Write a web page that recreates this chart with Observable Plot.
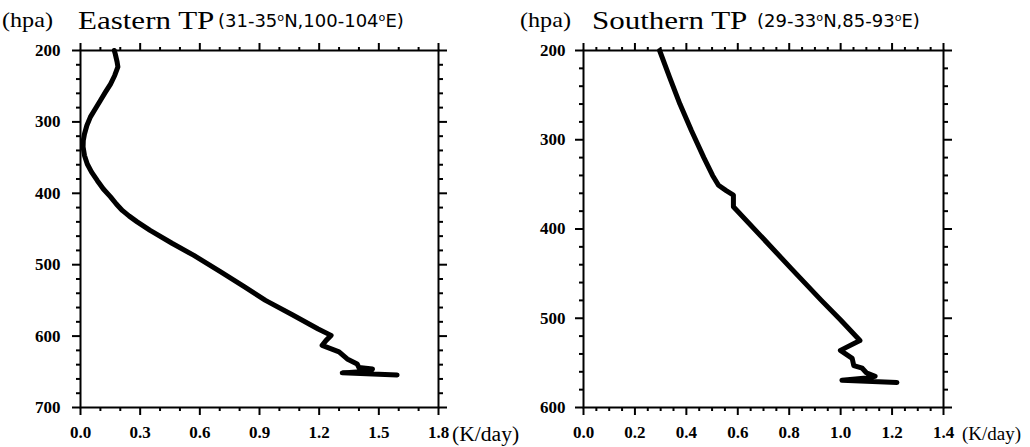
<!DOCTYPE html>
<html>
<head>
<meta charset="utf-8">
<script src="https://cdn.jsdelivr.net/npm/d3@7"></script>
<script src="https://cdn.jsdelivr.net/npm/@observablehq/plot@0.6"></script>
<style>
  html, body { margin: 0; padding: 0; background: #fff; }
  #wrap { position: relative; width: 1030px; height: 447px; overflow: hidden; }
  .panel { position: absolute; top: 0; }
  .t { position: absolute; white-space: nowrap; color: #000; transform-origin: left center; }
  .serif { font-family: "Liberation Serif", serif; }
  .sans { font-family: "DejaVu Sans", sans-serif; }
  .deg { position: relative; top: -0.5em; font-size: 0.62em; }
</style>
</head>
<body>
<div id="wrap"></div>
<script>
// ---- Eastern TP (31-35N, 100-104E) ----
const eastPressure = [200, 205, 216, 223, 235, 247, 258, 270, 282, 293, 305, 317, 326, 335, 347, 359, 370, 382, 394, 405, 415, 424, 432, 440, 452, 470, 487, 510, 531, 550, 570, 590, 599, 606, 613, 622, 632, 639, 644, 646, 649, 651.5, 654.5];
const eastRate     = [0.17, 0.175, 0.184, 0.188, 0.172, 0.151, 0.126, 0.100, 0.074, 0.050, 0.032, 0.020, 0.014, 0.013, 0.020, 0.034, 0.055, 0.084, 0.115, 0.151, 0.18, 0.21, 0.245, 0.285, 0.35, 0.46, 0.57, 0.705, 0.825, 0.93, 1.065, 1.195, 1.26, 1.235, 1.215, 1.30, 1.341, 1.391, 1.40, 1.468, 1.46, 1.316, 1.592];

// ---- Southern TP (29-33N, 85-93E) ----
const southPressure = [200, 230, 260, 290, 320, 340, 351, 357, 362, 375, 411, 445, 480, 502, 525, 536, 545, 553, 556, 561, 565, 567, 569.5, 572];
const southRate     = [0.296, 0.335, 0.375, 0.42, 0.468, 0.502, 0.525, 0.555, 0.583, 0.583, 0.70, 0.81, 0.925, 1.0, 1.075, 0.999, 1.045, 1.051, 1.084, 1.10, 1.134, 1.10, 1.005, 1.219];

// ---- tick values ----
const eastXMajor = [0, 0.3, 0.6, 0.9, 1.2, 1.5, 1.8];
const eastXMinor = [0.1, 0.2, 0.4, 0.5, 0.7, 0.8, 1.0, 1.1, 1.3, 1.4, 1.6, 1.7];
const eastYMajor = [200, 300, 400, 500, 600, 700];
const eastYMinor = [220, 240, 260, 280, 320, 340, 360, 380, 420, 440, 460, 480, 520, 540, 560, 580, 620, 640, 660, 680];

const southXMajor = [0, 0.2, 0.4, 0.6, 0.8, 1.0, 1.2, 1.4];
const southXMinor = [0.05, 0.1, 0.15, 0.25, 0.3, 0.35, 0.45, 0.5, 0.55, 0.65, 0.7, 0.75, 0.85, 0.9, 0.95, 1.05, 1.1, 1.15, 1.25, 1.3, 1.35];
const southYMajor = [200, 300, 400, 500, 600];
const southYMinor = [220, 240, 260, 280, 320, 340, 360, 380, 420, 440, 460, 480, 520, 540, 560, 580];

function panel(cfg) {
  const data = cfg.pressure.map((p, i) => ({p, v: cfg.rate[i]}));
  const blank = () => "";
  const tw = 2;
  return Plot.plot({
    width: cfg.width, height: 447,
    marginLeft: cfg.ml, marginRight: cfg.mr, marginTop: 50, marginBottom: 40,
    x: {domain: cfg.xDomain},
    y: {domain: cfg.yDomain, reverse: true},
    style: {fontFamily: "Liberation Serif, serif", fontSize: "17px", fontWeight: "bold", color: "black", background: "white", overflow: "visible"},
    marks: [
      Plot.axisX(cfg.xMajor, {anchor: "bottom", tickSize: 8, tickPadding: 10, strokeWidth: tw, tickFormat: d => d.toFixed(1), label: null}),
      Plot.axisX(cfg.xMinor, {anchor: "bottom", tickSize: 4, strokeWidth: tw, tickFormat: blank, label: null}),
      Plot.axisX(cfg.xMajor, {anchor: "top", tickSize: 8, strokeWidth: tw, tickFormat: blank, label: null}),
      Plot.axisX(cfg.xMinor, {anchor: "top", tickSize: 4, strokeWidth: tw, tickFormat: blank, label: null}),
      Plot.axisY(cfg.yMajor, {anchor: "left", tickSize: 8, tickPadding: cfg.yPad, strokeWidth: tw, tickFormat: d => String(d), label: null}),
      Plot.axisY(cfg.yMinor, {anchor: "left", tickSize: 4, strokeWidth: tw, tickFormat: blank, label: null}),
      Plot.axisY(cfg.yMajor, {anchor: "right", tickSize: 8, strokeWidth: tw, tickFormat: blank, label: null}),
      Plot.axisY(cfg.yMinor, {anchor: "right", tickSize: 4, strokeWidth: tw, tickFormat: blank, label: null}),
      Plot.frame({stroke: "black", strokeWidth: 2}),
      Plot.line(data, {x: "v", y: "p", stroke: "black", strokeWidth: 5, strokeLinejoin: "round", strokeLinecap: "round", curve: "linear"})
    ]
  });
}

const wrap = document.getElementById("wrap");

const left = panel({width: 515, ml: 80, mr: 77, xDomain: [0, 1.8], yDomain: [200, 700],
  xMajor: eastXMajor, xMinor: eastXMinor, yMajor: eastYMajor, yMinor: eastYMinor, yPad: 12,
  pressure: eastPressure, rate: eastRate});
left.classList.add("panel"); left.style.left = "0px";
wrap.appendChild(left);

const right = panel({width: 510, ml: 63, mr: 87, xDomain: [0, 1.4], yDomain: [200, 600],
  xMajor: southXMajor, xMinor: southXMinor, yMajor: southYMajor, yMinor: southYMinor, yPad: 10,
  pressure: southPressure, rate: southRate});
right.classList.add("panel"); right.style.left = "520px";
wrap.appendChild(right);

// ---- titles and unit labels (HTML text) ----
function addText(html, cls, left, top, size, scale) {
  const d = document.createElement("div");
  d.className = "t " + cls;
  d.style.left = left + "px";
  d.style.top = top + "px";
  d.style.fontSize = size + "px";
  d.style.lineHeight = size + "px";
  d.style.transform = `scaleX(${scale})`;
  d.innerHTML = html;
  wrap.appendChild(d);
}
const titles = [
  {html: "(hpa)", cls: "serif", left: 2, top: 10, size: 21, scale: 1.15},
  {html: "Eastern TP", cls: "serif", left: 78, top: 8, size: 25, scale: 1.24},
  {html: "(31-35<span class='deg'>o</span>N,100-104<span class='deg'>o</span>E)", cls: "sans", left: 218, top: 12, size: 18, scale: 1},
  {html: "(hpa)", cls: "serif", left: 520, top: 10, size: 21, scale: 1.15},
  {html: "Southern TP", cls: "serif", left: 592, top: 8, size: 25, scale: 1.24},
  {html: "(29-33<span class='deg'>o</span>N,85-93<span class='deg'>o</span>E)", cls: "sans", left: 757, top: 12, size: 18, scale: 1},
  {html: "(K/day)", cls: "serif", left: 452, top: 424, size: 20, scale: 1.08},
  {html: "(K/day)", cls: "serif", left: 962, top: 424, size: 19, scale: 1.0}
];
titles.forEach(t => addText(t.html, t.cls, t.left, t.top, t.size, t.scale));
</script>
</body>
</html>
